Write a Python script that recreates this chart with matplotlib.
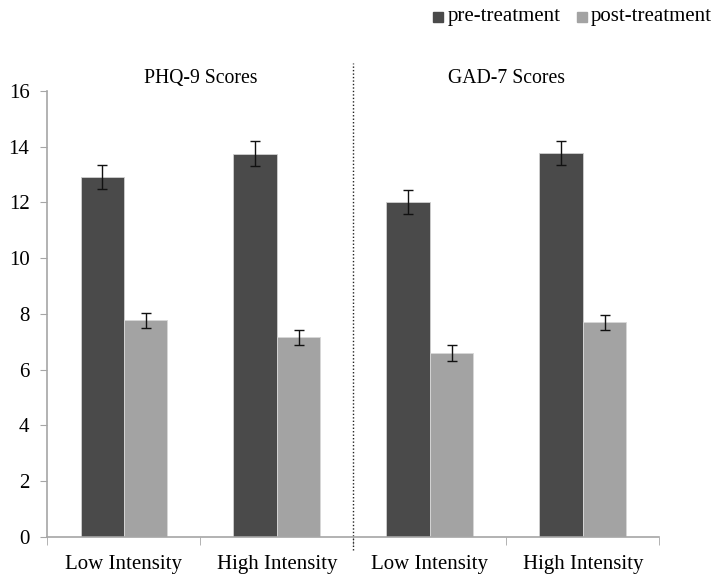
import numpy as np
import matplotlib.pyplot as plt
from matplotlib.patches import Rectangle

# Data
categories = ["Low Intensity", "High Intensity", "Low Intensity", "High Intensity"]
panels = ["PHQ-9 Scores", "GAD-7 Scores"]
pre_vals = [12.92, 13.75, 12.02, 13.78]
pre_err = [0.42, 0.44, 0.43, 0.42]
post_vals = [7.77, 7.17, 6.60, 7.70]
post_err = [0.28, 0.27, 0.28, 0.27]
series_names = ["pre-treatment", "post-treatment"]

dark = "#4a4a4a"
light = "#a3a3a3"
axis_col = "#a6a6a6"

plt.rcParams['font.family'] = ['Liberation Serif', 'DejaVu Serif']

fig = plt.figure(figsize=(7.14, 5.74), dpi=100)
ax = fig.add_axes([0.0665, 0.0645, 0.857, 0.777])

x = np.arange(len(categories))
w = 0.284
ax.bar(x - w / 2, pre_vals, w, color=dark, edgecolor="#d0d0d0", linewidth=0.6)
ax.bar(x + w / 2, post_vals, w, color=light, edgecolor="#d8d8d8", linewidth=0.6)
ax.errorbar(x - w / 2, pre_vals, yerr=pre_err, fmt="none", ecolor="#111111",
            elinewidth=1, capsize=3.6, capthick=1)
ax.errorbar(x + w / 2, post_vals, yerr=post_err, fmt="none", ecolor="#111111",
            elinewidth=1, capsize=3.6, capthick=1)

ax.set_xlim(-0.5, 3.5)
ax.set_ylim(0, 16)
ax.set_yticks(np.arange(0, 17, 2))
ax.set_xticks(x)
ax.set_xticklabels(categories, fontsize=15)
ax.set_xticks(np.arange(-0.5, 3.6, 1), minor=True)
ax.tick_params(axis="x", which="major", length=0, pad=13)
ax.tick_params(axis="x", which="minor", length=6, color=axis_col, direction="out")
ax.tick_params(axis="y", length=5, color=axis_col, labelsize=15, pad=8)

for s in ["top", "right"]:
    ax.spines[s].set_visible(False)
for s in ["left", "bottom"]:
    ax.spines[s].set_color(axis_col)
    ax.spines[s].set_linewidth(1.2)

# Divider between panels
ax.plot([1.5, 1.5], [-0.45, 17.0], linestyle=(0, (1, 1.5)), color="#222222",
        linewidth=1, clip_on=False)

# Panel titles
ax.text(0.5, 16.45, panels[0], ha="center", va="center", fontsize=14.2, clip_on=False)
ax.text(2.5, 16.45, panels[1], ha="center", va="center", fontsize=14.2, clip_on=False)

# Legend at top right
fig.patches.append(Rectangle((433 / 714, 1 - 22 / 574), 10 / 714, 10 / 574,
                             transform=fig.transFigure, color=dark))
fig.text(448 / 714, 1 - 17 / 574, series_names[0], ha="left", va="center", fontsize=15)
fig.patches.append(Rectangle((577 / 714, 1 - 22 / 574), 10 / 714, 10 / 574,
                             transform=fig.transFigure, color=light))
fig.text(591 / 714, 1 - 17 / 574, series_names[1], ha="left", va="center", fontsize=15)

fig.savefig("out.png", dpi=100)
